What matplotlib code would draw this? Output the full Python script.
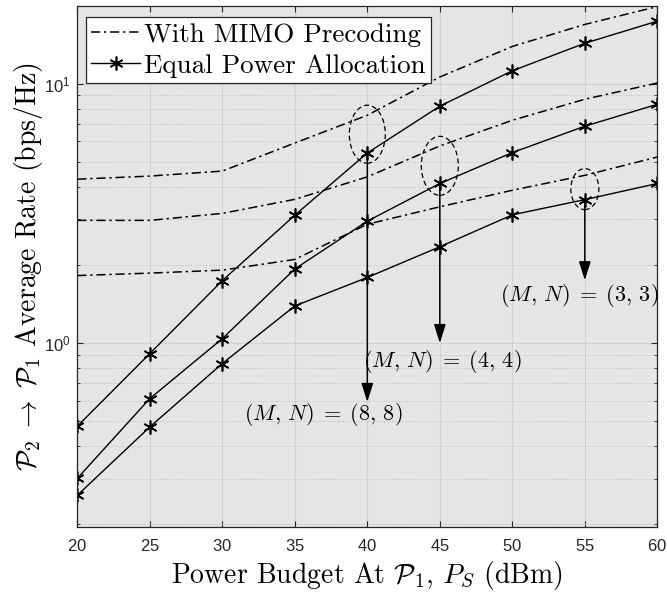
import numpy as np
import matplotlib
matplotlib.use('Agg')
import matplotlib.pyplot as plt
from matplotlib.patches import Ellipse
from matplotlib.ticker import NullFormatter

plt.rcParams['font.family'] = 'cmr10'
plt.rcParams['mathtext.fontset'] = 'cm'
plt.rcParams['axes.formatter.use_mathtext'] = True

# Power budget (dBm)
ps = [20, 25, 30, 35, 40, 45, 50, 55, 60]

# With MIMO precoding (dash-dot)
mimo_88 = [4.28, 4.40, 4.60, 5.90, 7.55, 10.6, 13.9, 16.9, 19.8]
mimo_44 = [2.97, 2.97, 3.16, 3.58, 4.37, 5.75, 7.22, 8.70, 10.05]
mimo_33 = [1.82, 1.86, 1.91, 2.10, 2.87, 3.35, 3.88, 4.43, 5.21]

# Equal power allocation (solid + asterisk)
epa_88 = [0.478, 0.911, 1.74, 3.11, 5.40, 8.18, 11.2, 14.3, 17.4]
epa_44 = [0.301, 0.611, 1.04, 1.93, 2.95, 4.12, 5.42, 6.85, 8.32]
epa_33 = [0.259, 0.475, 0.834, 1.39, 1.79, 2.35, 3.12, 3.57, 4.12]

# annotations: (x, arrow start, arrow end, label x, label y, label)
notes = [(40, 5.40, 0.593, 36.98, 0.531, r'$(M,\,N)\;=\;(8,\,8)$'),
         (45, 4.12, 1.00, 45.17, 0.851, r'$(M,\,N)\;=\;(4,\,4)$'),
         (55, 3.57, 1.746, 54.6, 1.53, r'$(M,\,N)\;=\;(3,\,3)$')]
# ellipses: (x, y centre, width px, height px)
rings = [(40, 6.38, 36, 58), (45, 4.82, 37, 59), (55, 3.92, 28, 41)]

dashdot = (0, (6, 2.5, 1.5, 2.5))
star = (6, 2, 0)

fig = plt.figure(figsize=(6.67, 5.95), dpi=100)
ax = fig.add_axes([0.1159, 0.1138, 0.8696, 0.8761])
ax.set_facecolor('#e5e5e5')

for m, e in zip([mimo_88, mimo_44, mimo_33], [epa_88, epa_44, epa_33]):
    ax.plot(ps, m, color='k', lw=1.1, ls=dashdot)
    ax.plot(ps, e, color='k', lw=1.0, marker=star, ms=10, mew=1.2)

ax.set_yscale('log')
ax.set_xlim(20, 60)
ax.set_ylim(0.195, 19.9)
ax.set_xticks(range(20, 61, 5))
ax.yaxis.set_minor_formatter(NullFormatter())

ax.grid(which='major', color='#d2d2d2', lw=0.8, ls='-')
ax.grid(which='minor', axis='y', color='#bcbcbc', lw=0.7, ls=':')
ax.set_axisbelow(True)

ax.tick_params(which='both', direction='in', top=True, right=True,
               color='#262626', labelsize=12, labelfontfamily='Liberation Sans',
               labelcolor='#262626')
ax.tick_params(which='major', length=4.5)
ax.tick_params(which='minor', length=2.5)
ax.tick_params(axis='x', pad=8)
ax.tick_params(axis='y', pad=5)
for s in ax.spines.values():
    s.set_color('#262626')
    s.set_linewidth(0.9)

ax.set_xlabel(r'Power Budget At $\mathcal{P}_1$, $P_S$ (dBm)', fontsize=20)
ax.set_ylabel(r'$\mathcal{P}_2\;\rightarrow\;\mathcal{P}_1$ Average Rate (bps/Hz)', fontsize=20)
ax.xaxis.set_label_coords(0.5, -0.060)
ax.yaxis.set_label_coords(-0.056, 0.5)

# ellipses drawn in axes fraction so they stay round on the log axis
bb = ax.get_position()
ax_w = bb.width * fig.get_figwidth() * fig.dpi
ax_h = bb.height * fig.get_figheight() * fig.dpi
to_axes = ax.transData + ax.transAxes.inverted()
for xc, yc, w, h in rings:
    cx, cy = to_axes.transform((xc, yc))
    ax.add_patch(Ellipse((cx, cy), w / ax_w, h / ax_h, transform=ax.transAxes,
                         fill=False, ec='k', lw=0.9, ls=(0, (4, 2.5))))

for xa, y0, y1, lx, ly, txt in notes:
    ax.annotate('', xy=(xa, y1), xytext=(xa, y0),
                arrowprops=dict(arrowstyle='-|>,head_length=0.95,head_width=0.3',
                                color='k', lw=1.1, mutation_scale=12,
                                shrinkA=0, shrinkB=0))
    ax.text(lx, ly, txt, fontsize=16, ha='center', va='center')

h1, = ax.plot([], [], color='k', lw=1.1, ls=dashdot)
h2, = ax.plot([], [], color='k', lw=1.0, marker=star, ms=10, mew=1.2)
leg = ax.legend([h1, h2], ['With MIMO Precoding', 'Equal Power Allocation'],
                loc='upper left', bbox_to_anchor=(0.015, 0.978), borderaxespad=0,
                fontsize=19.5, fancybox=False, framealpha=1, edgecolor='#262626',
                borderpad=0.2, labelspacing=0.25, handlelength=1.8,
                handletextpad=0.15)
leg.get_frame().set_linewidth(0.9)

fig.savefig('out.png', dpi=100)
